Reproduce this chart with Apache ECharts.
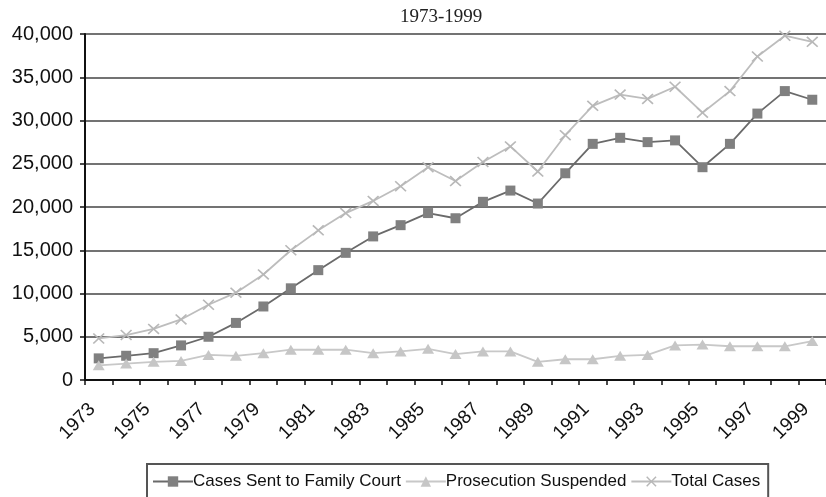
<!DOCTYPE html>
<html>
<head>
<meta charset="utf-8">
<script src="https://cdn.jsdelivr.net/npm/echarts@6/dist/echarts.min.js"></script>
<style>
  html, body { margin: 0; padding: 0; background: #fff; }
  #chart { width: 826px; height: 497px; }
</style>
</head>
<body>
<div id="chart"></div>
<script>
  const years = ['1973', '1974', '1975', '1976', '1977', '1978', '1979', '1980', '1981',
    '1982', '1983', '1984', '1985', '1986', '1987', '1988', '1989', '1990', '1991',
    '1992', '1993', '1994', '1995', '1996', '1997', '1998', '1999'];

  const familyCourt = [2500, 2800, 3100, 4000, 5000, 6600, 8500, 10600, 12700,
    14700, 16600, 17900, 19300, 18700, 20600, 21900, 20400, 23900, 27300,
    28000, 27500, 27700, 24600, 27300, 30800, 33400, 32400];

  const prosecutionSuspended = [1700, 1900, 2100, 2200, 2900, 2800, 3100, 3500, 3500,
    3500, 3100, 3300, 3600, 3000, 3300, 3300, 2100, 2400, 2400,
    2800, 2900, 4000, 4100, 3900, 3900, 3900, 4500];

  const totalCases = [4800, 5200, 5900, 7000, 8700, 10100, 12200, 15000, 17300,
    19300, 20700, 22400, 24600, 23000, 25200, 27000, 24100, 28300, 31700,
    33000, 32500, 33900, 30900, 33400, 37400, 39800, 39100];

  const crossPath = 'path://M0,1L1,0L5,4L9,0L10,1L6,5L10,9L9,10L5,6L1,10L0,9L4,5Z';
  const sans = 'Liberation Sans, Arial, sans-serif';

  const chart = echarts.init(document.getElementById('chart'));
  chart.setOption({
    animation: false,
    title: {
      text: '1973-1999',
      left: 395,
      top: 3,
      textStyle: {
        fontFamily: 'Liberation Serif, Times New Roman, serif',
        fontSize: 19,
        fontWeight: 'normal',
        color: '#222',
      },
    },
    grid: { left: 85, right: 0, top: 34, bottom: 117 },
    xAxis: {
      type: 'category',
      data: years,
      boundaryGap: true,
      axisLine: { lineStyle: { color: '#111', width: 2 } },
      axisTick: { show: true, interval: 0, length: 5, lineStyle: { color: '#111', width: 1.5 } },
      axisLabel: {
        interval: 1,
        rotate: 45,
        margin: 20,
        padding: [0, 9, 0, 0],
        fontFamily: sans,
        fontSize: 19,
        color: '#111',
      },
    },
    yAxis: {
      type: 'value',
      min: 0,
      max: 40000,
      interval: 5000,
      axisLine: { show: true, lineStyle: { color: '#111', width: 2 } },
      axisTick: { show: true, length: 5, lineStyle: { color: '#111', width: 1.5 } },
      axisLabel: {
        margin: 12,
        fontFamily: sans,
        fontSize: 20,
        color: '#111',
        formatter: (v) => v.toLocaleString('en-US'),
      },
      splitLine: { lineStyle: { color: '#444', width: 1.5 } },
    },
    legend: {
      left: 147,
      top: 464,
      itemWidth: 40,
      itemHeight: 13,
      itemGap: 4,
      padding: [9, 8, 12, 5],
      borderColor: '#555',
      borderWidth: 2,
      textStyle: { fontFamily: sans, fontSize: 17, color: '#111', padding: [0, 0, 0, -5] },
      data: ['Cases Sent to Family Court', 'Prosecution Suspended', 'Total Cases'],
    },
    series: [
      {
        name: 'Total Cases',
        type: 'line',
        data: totalCases,
        symbol: crossPath,
        symbolSize: [12, 11],
        lineStyle: { color: '#bdbdbd', width: 1.8 },
        itemStyle: { color: '#b8b8b8' },
      },
      {
        name: 'Cases Sent to Family Court',
        type: 'line',
        data: familyCourt,
        symbol: 'rect',
        symbolSize: 10,
        lineStyle: { color: '#6a6a6a', width: 1.8 },
        itemStyle: { color: '#808080' },
      },
      {
        name: 'Prosecution Suspended',
        type: 'line',
        data: prosecutionSuspended,
        symbol: 'triangle',
        symbolSize: [12, 10],
        lineStyle: { color: '#c8c8c8', width: 1.8 },
        itemStyle: { color: '#c6c6c6' },
      },
    ],
  });
</script>
</body>
</html>
